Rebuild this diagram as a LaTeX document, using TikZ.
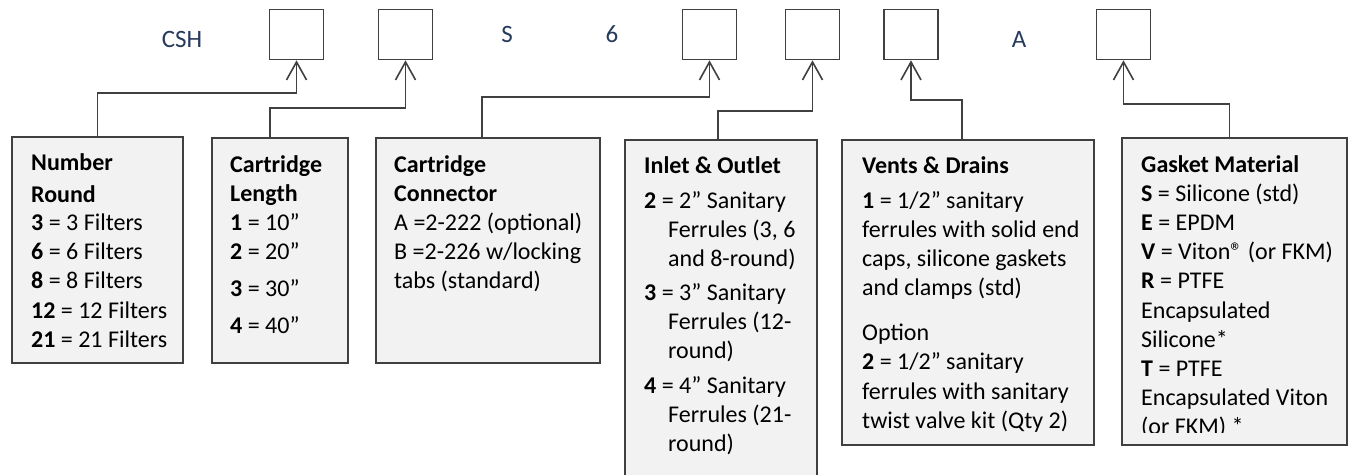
\documentclass[tikz,border=0pt]{standalone}
\usepackage{fontspec}
\setmainfont{Carlito}
\usepackage{tikz}
\usetikzlibrary{calc,arrows.meta}
\definecolor{codeblue}{RGB}{38,58,92}
\definecolor{edgegray}{RGB}{64,64,64}
\definecolor{cardfill}{RGB}{242,242,242}

\begin{document}
\begin{tikzpicture}[x=1pt, y=-1pt,
	slot/.style={draw=edgegray, line width=1.6pt, fill=white, minimum width=54pt, minimum height=50pt, inner sep=0pt},
	card/.style={draw=edgegray, line width=1.9pt, fill=cardfill, anchor=north west, inner sep=0pt},
	cardtext/.style={anchor=base west, inner sep=0pt, text width=250pt, align=left, font=\fontsize{24}{29.2}\selectfont, execute at begin node={\spaceskip=0pt\xspaceskip=0pt\relax}},
	code/.style={text=codeblue, inner sep=0pt, font=\fontsize{25}{30}\selectfont},
	link/.style={draw=edgegray, line width=1.6pt, -{Straight Barb[length=18pt,width=20pt]}}]
		\useasboundingbox (0,0) rectangle (1348,474);
		\node[code] (csh) at (182,39) {CSH};
		\node[code] (cs) at (507,34) {S};
		\node[code] (csix) at (612,34) {6};
		\node[code] (ca) at (1019,39) {A};
		\node[slot] (s1) at (296.5,34.5) {};
		\node[slot] (s2) at (405.5,34.5) {};
		\node[slot] (s3) at (709.5,34.5) {};
		\node[slot] (s4) at (812.5,34.5) {};
		\node[slot] (s5) at (911,34.5) {};
		\node[slot] (s6) at (1123.5,34.5) {};
		\node[card, minimum width=171pt, minimum height=226pt] (bA) at (11,136) {};
		\node[card, minimum width=136pt, minimum height=225pt] (bB) at (211,137) {};
		\node[card, minimum width=224pt, minimum height=225pt] (bC) at (375,137) {};
		\node[card, minimum width=192pt, minimum height=400pt] (bD) at (624,139) {};
		\node[card, minimum width=252pt, minimum height=305pt] (bE) at (841,139) {};
		\node[card, minimum width=225pt, minimum height=307pt] (bF) at (1121,137) {};
		\node[cardtext] (tA) at (31,170) {\textbf{Number}\\[3pt]\textbf{Round}\\[-1pt]\textbf{3} = 3 Filters\\\textbf{6} = 6 Filters\\\textbf{8} = 8 Filters\\\textbf{12} = 12 Filters\\\textbf{21} = 21 Filters};
		\node[cardtext] (tB) at (230,172) {\textbf{Cartridge}\\\textbf{Length}\\\textbf{1} = 10”\\\textbf{2} = 20”\\[7.5pt]\textbf{3} = 30”\\[7.5pt]\textbf{4} = 40”};
		\node[cardtext] (tC) at (394,172) {\textbf{Cartridge}\\\textbf{Connector}\\A =2-222 (optional)\\B =2-226 w/locking\\tabs (standard)};
		\node[cardtext] (tD) at (644,173) {\textbf{Inlet \& Outlet}\\[5.8pt]\textbf{2} = 2” Sanitary\\\hspace*{24pt}Ferrules (3, 6\\\hspace*{24pt}and 8-round)\\[4.5pt]\textbf{3} = 3” Sanitary\\\hspace*{24pt}Ferrules (12-\\\hspace*{24pt}round)\\[5.8pt]\textbf{4} = 4” Sanitary\\\hspace*{24pt}Ferrules (21-\\\hspace*{24pt}round)};
		\node[cardtext] (tE) at (862,173) {\textbf{Vents \& Drains}\\[5.8pt]\textbf{1} = 1/2” sanitary\\ferrules with solid end\\caps, silicone gaskets\\and clamps (std)\\[15.8pt]Option\\\textbf{2} = 1/2” sanitary\\ferrules with sanitary\\twist valve kit (Qty 2)};
		\begin{scope}
			\clip (1121,137) rectangle (1346,432);
			\node[cardtext] (tF) at (1141,172) {\textbf{Gasket Material}\\\textbf{S} = Silicone (std)\\\textbf{E} = EPDM\\\textbf{V} = Viton® (or FKM)\\\textbf{R} = PTFE\\Encapsulated\\Silicone*\\\textbf{T} = PTFE\\Encapsulated Viton\\(or FKM) *};
		\end{scope}
		\draw[link] (bA.north) -- ++(0,-43) -| (s1.south);
		\draw[link] ([xshift=-10pt]bB.north) -- ++(0,-29) -| (s2.south);
		\draw[link] ([xshift=-6pt]bC.north) -- ++(0,-40) -| (s3.south);
		\draw[link] ([xshift=-3pt]bD.north) -- ++(0,-28) -| (s4.south);
		\draw[link] ([xshift=-6pt]bE.north) -- ++(0,-39) -| (s5.south);
		\draw[link] ([xshift=-5pt]bF.north) -- ++(0,-33) -| (s6.south);
\end{tikzpicture}
\end{document}
